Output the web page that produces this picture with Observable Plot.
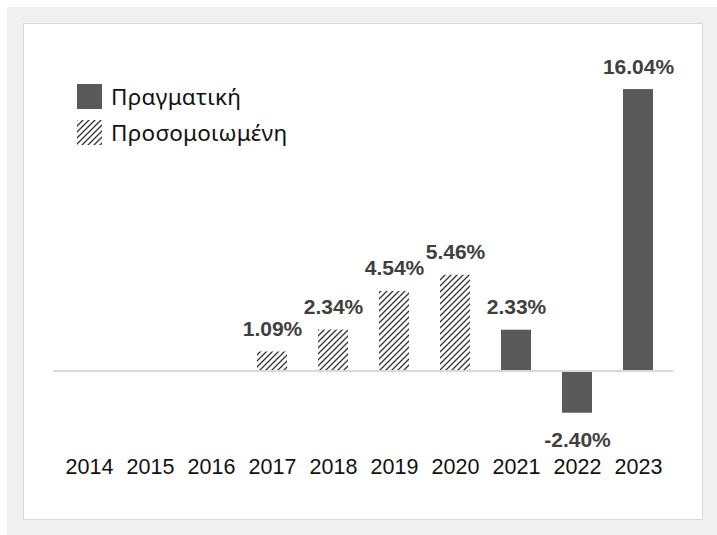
<!DOCTYPE html>
<html>
<head>
<meta charset="utf-8">
<script src="https://cdn.jsdelivr.net/npm/d3@7"></script>
<script src="https://cdn.jsdelivr.net/npm/@observablehq/plot@0.6"></script>
<style>
  html, body { margin: 0; padding: 0; background: #ffffff; }
  #wrap { position: relative; width: 717px; height: 535px; overflow: hidden; background: #ffffff; }
  #bg { position: absolute; left: 7px; top: 7px; width: 710px; height: 528px; background: #f0f0f0; }
  #panel { position: absolute; left: 23px; top: 23px; width: 678px; height: 495px; background: #ffffff; border: 1px solid #d9d9d9; }
  #chart { position: absolute; left: 0; top: 0; }
  #legend { position: absolute; left: 77px; top: 84px; font-family: "Noto Sans", "Open Sans", sans-serif; font-size: 22.5px; letter-spacing: 0.3px; color: #111; }
  .item { display: flex; align-items: center; height: 25px; margin-bottom: 10.5px; }
  .item svg { margin-right: 9px; display: block; }
</style>
</head>
<body>
<div id="wrap">
  <div id="bg"></div>
  <div id="panel"></div>
  <div id="chart"></div>
  <div id="legend"></div>
</div>
<script>
const years = ["2014", "2015", "2016", "2017", "2018", "2019", "2020", "2021", "2022", "2023"];
const actual = [null, null, null, null, null, null, null, 2.33, -2.40, 16.04];
const simulated = [null, null, null, 1.09, 2.34, 4.54, 5.46, null, null, null];
const seriesNames = ["Πραγματική", "Προσομοιωμένη"];

const rows = [];
years.forEach((y, i) => {
  if (actual[i] != null) rows.push({year: y, value: actual[i], series: seriesNames[0]});
  if (simulated[i] != null) rows.push({year: y, value: simulated[i], series: seriesNames[1]});
});

const barColor = "#595959";
const hatchFill = "url(#hatch)";
const hatchPath = `<path d="M0,6 L6,0 M-1.5,1.5 L1.5,-1.5 M4.5,7.5 L7.5,4.5" stroke="#333" stroke-width="1.3"/>`;

const plot = Plot.plot({
  width: 717,
  height: 535,
  marginLeft: 53.3,
  marginRight: 43.8,
  marginTop: 0,
  marginBottom: 80,
  style: {background: "transparent", fontFamily: "'Liberation Sans', Arial, sans-serif"},
  x: {domain: years, paddingInner: 0.516, paddingOuter: 0.258, label: null},
  y: {domain: [-5, 17], range: [458.35, 72.25], axis: null},
  marks: [
    Plot.barY(rows, {
      x: "year", y: "value",
      fill: d => d.series === seriesNames[0] ? barColor : hatchFill
    }),
    Plot.ruleY([0], {stroke: "#d9d9d9", strokeWidth: 2}),
    Plot.text(rows.filter(d => d.value >= 0), {
      x: "year", y: "value",
      text: d => d.value.toFixed(2) + "%",
      lineAnchor: "bottom", dy: -16,
      fontSize: 21, fontWeight: "bold", fill: "#404040"
    }),
    Plot.text(rows.filter(d => d.value < 0), {
      x: "year", y: "value",
      text: d => d.value.toFixed(2) + "%",
      lineAnchor: "top", dy: 19,
      fontSize: 21, fontWeight: "bold", fill: "#404040"
    }),
    Plot.axisX({anchor: "bottom", tickSize: 0, tickPadding: 3, fontSize: 21.5, color: "#111", label: null})
  ]
});

const defs = document.createElementNS("http://www.w3.org/2000/svg", "defs");
defs.innerHTML = `<pattern id="hatch" patternUnits="userSpaceOnUse" width="6" height="6">${hatchPath}</pattern>`;
plot.insertBefore(defs, plot.firstChild);
document.getElementById("chart").appendChild(plot);

const legend = document.getElementById("legend");
seriesNames.forEach((name, i) => {
  const item = document.createElement("div");
  item.className = "item";
  const sw = i === 0
    ? `<svg width="25" height="25"><rect width="25" height="25" fill="${barColor}"/></svg>`
    : `<svg width="25" height="25"><defs><pattern id="hatchL" patternUnits="userSpaceOnUse" width="6" height="6">${hatchPath}</pattern></defs><rect width="25" height="25" fill="url(#hatchL)"/></svg>`;
  item.innerHTML = sw + `<span>${name}</span>`;
  legend.appendChild(item);
});
</script>
</body>
</html>
